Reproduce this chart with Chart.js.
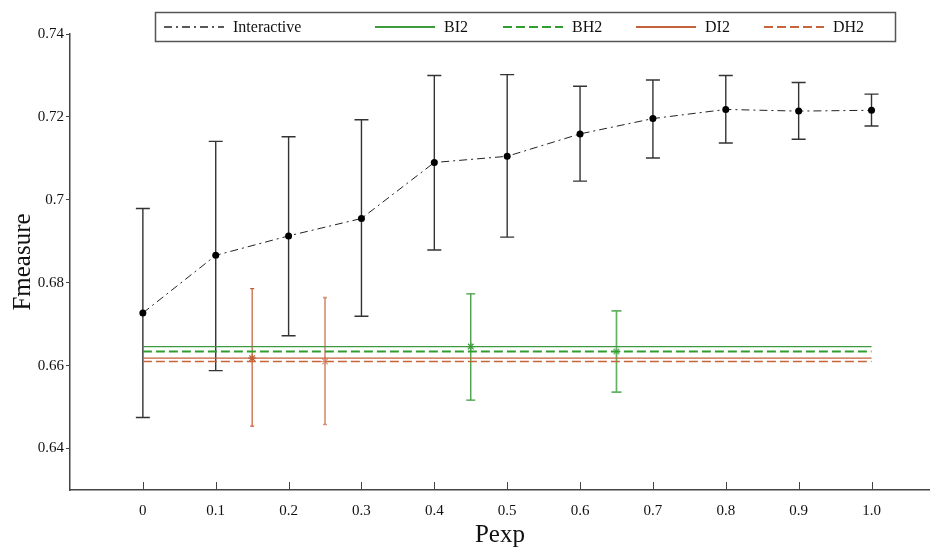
<!DOCTYPE html>
<html>
<head>
<meta charset="utf-8">
<script src="https://cdn.jsdelivr.net/npm/chart.js@4.4.0/dist/chart.umd.min.js"></script>
<style>
  body { margin: 0; background: #fff; }
  #wrap { width: 935px; height: 550px; }
</style>
</head>
<body>
<div id="wrap"><canvas id="fmeasureChart" width="935" height="550"></canvas></div>
<script>
// Interactive runs, one per Pexp setting (mean with low/high bar)
const pexp = [0, 0.1, 0.2, 0.3, 0.4, 0.5, 0.6, 0.7, 0.8, 0.9, 1.0];
const pexpLabels = ['0', '0.1', '0.2', '0.3', '0.4', '0.5', '0.6', '0.7', '0.8', '0.9', '1.0'];
const interactiveMean = [0.6727, 0.6866, 0.6913, 0.6955, 0.7090, 0.7105, 0.7159, 0.7196, 0.7218, 0.7214, 0.7216];
const interactiveLow  = [0.6475, 0.6588, 0.6672, 0.6719, 0.6879, 0.6910, 0.7045, 0.7101, 0.7137, 0.7146, 0.7178];
const interactiveHigh = [0.6979, 0.7141, 0.7152, 0.7193, 0.7300, 0.7302, 0.7274, 0.7289, 0.7300, 0.7283, 0.7255];

// Batch baselines: flat level plus one marker with its spread
const baselineNames = ['BI2', 'BH2', 'DI2', 'DH2'];
const baselineValue = [0.6646, 0.6634, 0.6618, 0.6610];
const baselineMarkX = [0.45, 0.65, 0.15, 0.25];
const baselineLow   = [0.6517, 0.6536, 0.6454, 0.6458];
const baselineHigh  = [0.6773, 0.6732, 0.6786, 0.6764];
const baselineSpan  = [0, 1.0];

const yTicks = [0.64, 0.66, 0.68, 0.70, 0.72, 0.74];
const yTickLabels = ['0.64', '0.66', '0.68', '0.7', '0.72', '0.74'];

const SERIF = '"Liberation Serif", "DejaVu Serif", serif';

const lineColor = ['#3d9a3d', '#2f9e2f', '#c4633a', '#c8643a'];
const lineDash = [[], [9, 4], [], [9, 4]];
const lineWidth = [1.3, 1.9, 1.3, 1.6];
const barColor = ['#3d9a3d', '#62b262', '#c25e34', '#d6957a'];
const barWidth = [1.3, 1.7, 1.2, 1.7];
const barCap = [9, 10, 4, 4];

const datasets = [{
    label: 'Interactive',
    type: 'line',
    data: pexp.map((x, i) => ({ x: x, y: interactiveMean[i] })),
    borderColor: '#222',
    borderWidth: 1,
    borderDash: [8, 4, 2, 4],
    pointRadius: 3.5,
    pointHoverRadius: 3.5,
    pointBackgroundColor: '#000',
    pointBorderWidth: 0,
    inLegend: true,
    errorBars: { low: interactiveLow, high: interactiveHigh, color: '#333', width: 1.4, cap: 14 }
}];

baselineNames.forEach((name, k) => {
    datasets.push({
        label: name,
        type: 'line',
        data: baselineSpan.map(x => ({ x: x, y: baselineValue[k] })),
        borderColor: lineColor[k],
        borderWidth: lineWidth[k],
        borderDash: lineDash[k],
        pointRadius: 0,
        inLegend: true
    });
});

baselineNames.forEach((name, k) => {
    datasets.push({
        label: name + ' spread',
        type: 'scatter',
        data: [{ x: baselineMarkX[k], y: baselineValue[k] }],
        borderColor: barColor[k],
        backgroundColor: barColor[k],
        borderWidth: 1.2,
        pointStyle: 'star',
        pointRadius: 4,
        errorBars: { low: [baselineLow[k]], high: [baselineHigh[k]], color: barColor[k], width: barWidth[k], cap: barCap[k] }
    });
});

// vertical bars with caps, drawn under the markers
const errorBarPlugin = {
    id: 'errorBars',
    beforeDatasetsDraw(chart) {
        const { ctx, scales: { y } } = chart;
        chart.data.datasets.forEach((ds, i) => {
            if (!ds.errorBars) return;
            const eb = ds.errorBars;
            const meta = chart.getDatasetMeta(i);
            ctx.save();
            ctx.strokeStyle = eb.color;
            ctx.lineWidth = eb.width;
            meta.data.forEach((pt, j) => {
                const top = y.getPixelForValue(eb.high[j]);
                const bot = y.getPixelForValue(eb.low[j]);
                const h = eb.cap / 2;
                ctx.beginPath();
                ctx.moveTo(pt.x, top); ctx.lineTo(pt.x, bot);
                ctx.moveTo(pt.x - h, top); ctx.lineTo(pt.x + h, top);
                ctx.moveTo(pt.x - h, bot); ctx.lineTo(pt.x + h, bot);
                ctx.stroke();
            });
            ctx.restore();
        });
    }
};

// x tick marks point up into the plot
const innerTicksPlugin = {
    id: 'innerTicks',
    afterDraw(chart) {
        const { ctx, scales: { x }, chartArea } = chart;
        ctx.save();
        ctx.strokeStyle = '#444';
        ctx.lineWidth = 1;
        x.ticks.forEach(t => {
            const px = Math.round(x.getPixelForValue(t.value)) + 0.5;
            ctx.beginPath();
            ctx.moveTo(px, chartArea.bottom);
            ctx.lineTo(px, chartArea.bottom - 8);
            ctx.stroke();
        });
        ctx.restore();
    }
};

// boxed legend sitting over the top of the plot
const boxLegendPlugin = {
    id: 'boxLegend',
    afterDraw(chart) {
        const ctx = chart.ctx;
        const slots = [164, 375, 503, 636, 764];
        const sample = 60, midY = 27;
        ctx.save();
        ctx.fillStyle = '#fff';
        ctx.fillRect(155, 12, 740, 29);
        ctx.strokeStyle = '#555';
        ctx.lineWidth = 1.5;
        ctx.strokeRect(155.5, 12.5, 740, 29);
        ctx.font = '16px ' + SERIF;
        ctx.textBaseline = 'middle';
        chart.data.datasets.filter(ds => ds.inLegend).forEach((ds, i) => {
            const x0 = slots[i];
            ctx.beginPath();
            ctx.strokeStyle = ds.borderColor;
            ctx.lineWidth = ds.label === 'Interactive' ? 1.4 : 2;
            ctx.setLineDash(ds.borderDash || []);
            ctx.moveTo(x0, midY);
            ctx.lineTo(x0 + sample, midY);
            ctx.stroke();
            ctx.setLineDash([]);
            ctx.fillStyle = '#111';
            ctx.fillText(ds.label, x0 + sample + 9, midY + 1);
        });
        ctx.restore();
    }
};

new Chart(document.getElementById('fmeasureChart'), {
    data: { datasets: datasets },
    plugins: [errorBarPlugin, innerTicksPlugin, boxLegendPlugin],
    options: {
        responsive: false,
        animation: false,
        layout: { padding: { top: 34, right: 0, left: 0, bottom: 0 } },
        plugins: {
            legend: { display: false },
            tooltip: { enabled: false }
        },
        scales: {
            x: {
                type: 'linear',
                min: -0.1,
                max: 1.08,
                afterFit: s => { s.height = 60; },
                afterBuildTicks: s => { s.ticks = pexp.map(v => ({ value: v })); },
                grid: { display: true, drawOnChartArea: false, drawTicks: false },
                border: { display: true, color: '#444', width: 1.5 },
                ticks: {
                    color: '#111',
                    padding: 12,
                    maxRotation: 0,
                    autoSkip: false,
                    font: { family: SERIF, size: 15 },
                    callback: (v, i) => pexpLabels[i]
                },
                title: {
                    display: true,
                    text: 'Pexp',
                    color: '#111',
                    padding: { top: 0, bottom: 0 },
                    font: { family: SERIF, size: 25 }
                }
            },
            y: {
                min: 0.63,
                max: 0.74,
                afterFit: s => { s.width = 70; },
                afterBuildTicks: s => { s.ticks = yTicks.map(v => ({ value: v })); },
                grid: { display: true, drawOnChartArea: false, drawTicks: true, tickLength: 4, color: '#444' },
                border: { display: true, color: '#444', width: 1.5 },
                ticks: {
                    color: '#111',
                    padding: 2,
                    font: { family: SERIF, size: 15 },
                    callback: (v, i) => yTickLabels[i]
                },
                title: {
                    display: true,
                    text: 'Fmeasure',
                    color: '#111',
                    padding: { top: 8, bottom: 0 },
                    font: { family: SERIF, size: 25 }
                }
            }
        }
    }
});
</script>
</body>
</html>
